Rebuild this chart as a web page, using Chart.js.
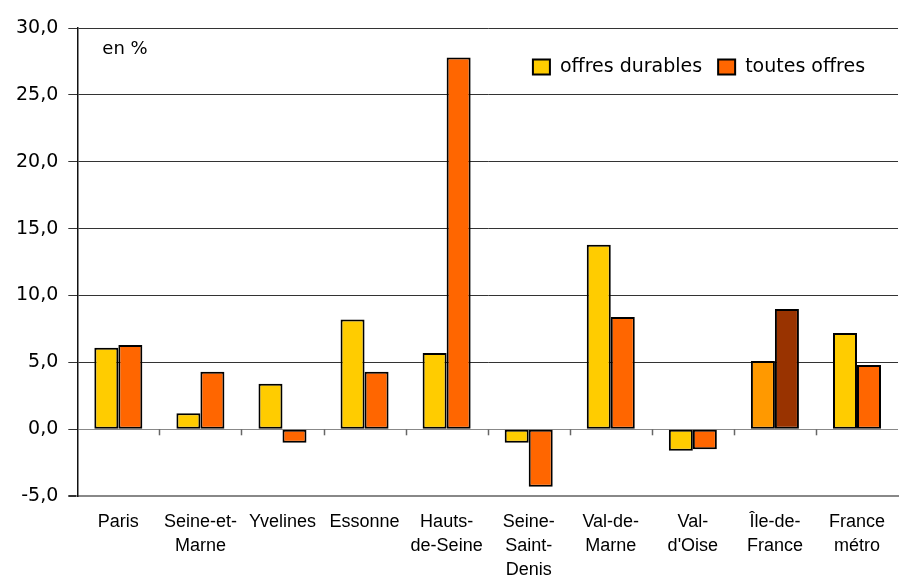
<!DOCTYPE html>
<html lang="fr">
<head>
<meta charset="UTF-8">
<title>Offres durables / toutes offres</title>
<script src="https://cdn.jsdelivr.net/npm/chart.js@4"></script>
<style>
  html, body { margin: 0; padding: 0; background: #fff; }
  #wrap { width: 899px; height: 578px; }
</style>
</head>
<body>
<div id="wrap"><canvas id="chart"></canvas></div>
<script>
const categories = [["Paris"], ["Seine-et-", "Marne"], ["Yvelines"], ["Essonne"], ["Hauts-", "de-Seine"],
  ["Seine-", "Saint-", "Denis"], ["Val-de-", "Marne"], ["Val-", "d'Oise"], ["Île-de-", "France"], ["France", "métro"]];
const offresDurables = [6.1, 1.2, 3.4, 8.2, 5.7, -1.0, 13.8, -1.6, 5.1, 7.2];
const toutesOffres = [6.3, 4.3, -1.0, 4.3, 27.8, -4.3, 8.4, -1.5, 9.0, 4.8];
const yTicks = [-5, 0, 5, 10, 15, 20, 25, 30];
const highlightIndex = 8; // Île-de-France drawn in other shades

const tickFont = { family: "DejaVu Sans", size: 19 };

// small ticks on the zero line between categories, plus "en %" and the legend
const extras = {
  id: "extras",
  afterDatasetsDraw(chart) {
    const { ctx, chartArea, scales: { x, y } } = chart;
    const y0 = y.getPixelForValue(0);
    const step = x.getPixelForValue(1) - x.getPixelForValue(0);
    ctx.save();
    ctx.strokeStyle = "#666";
    ctx.lineWidth = 1.5;
    for (let i = 0; i < categories.length - 1; i++) {
      const px = Math.round(x.getPixelForValue(i) + step / 2) + 0.5;
      ctx.beginPath();
      ctx.moveTo(px, y0);
      ctx.lineTo(px, y0 + 6);
      ctx.stroke();
    }
    ctx.font = "18px 'DejaVu Sans'";
    ctx.fillStyle = "#000";
    ctx.textBaseline = "middle";
    ctx.fillText("en %", chartArea.left + 25, chartArea.top + 21);

    // legend
    ctx.font = "19px 'DejaVu Sans'";
    const items = chart.data.datasets.map(d => ({ label: d.label, color: d.legendColor }));
    let lx = chartArea.right - 33;
    const ly = chartArea.top + 39;
    const widths = items.map(it => ctx.measureText(it.label).width);
    let total = 0;
    items.forEach((it, i) => { total += 17 + 10 + widths[i] + (i < items.length - 1 ? 16 : 0); });
    lx -= total;
    items.forEach((it, i) => {
      ctx.fillStyle = it.color;
      ctx.fillRect(lx, ly - 7.5, 17, 15);
      ctx.strokeStyle = "#000";
      ctx.lineWidth = 2;
      ctx.strokeRect(lx, ly - 7.5, 17, 15);
      ctx.fillStyle = "#000";
      ctx.fillText(it.label, lx + 27, ly);
      lx += 27 + widths[i] + 16;
    });
    ctx.restore();
  }
};

new Chart(document.getElementById("chart"), {
  type: "bar",
  data: {
    labels: categories,
    datasets: [
      {
        label: "offres durables",
        data: offresDurables,
        legendColor: "#FFCC00",
        backgroundColor: c => c.dataIndex === highlightIndex ? "#FF9900" : "#FFCC00",
        borderColor: "#000",
        borderWidth: 2,
        borderSkipped: false
      },
      {
        label: "toutes offres",
        data: toutesOffres,
        legendColor: "#FF6600",
        backgroundColor: c => c.dataIndex === highlightIndex ? "#993300" : "#FF6600",
        borderColor: "#000",
        borderWidth: 2,
        borderSkipped: false
      }
    ]
  },
  options: {
    responsive: true,
    maintainAspectRatio: false,
    animation: false,
    layout: { padding: { left: 6, top: 28, right: 0, bottom: -18 } },
    plugins: { legend: { display: false }, tooltip: { enabled: false } },
    datasets: { bar: { categoryPercentage: 0.585, barPercentage: 1 } },
    scales: {
      x: {
        grid: { drawOnChartArea: false, drawTicks: false },
        border: { display: true, color: "#888", width: 2 },
        ticks: {
          color: "#000",
          font: { family: "Liberation Sans", size: 18, lineHeight: 1.33 },
          padding: 14,
          maxRotation: 0,
          autoSkip: false
        }
      },
      y: {
        min: -5,
        max: 30,
        afterBuildTicks: s => { s.ticks = yTicks.map(v => ({ value: v })); },
        grid: {
          color: c => (c.tick && (c.tick.value === 0 || c.tick.value === -5)) ? "#888" : "#333",
          lineWidth: c => (c.tick && c.tick.value === -5) ? 2 : 1,
          tickLength: 9,
          tickColor: "#333"
        },
        border: { display: true, color: "#111", width: 1.5 },
        ticks: {
          color: "#000",
          font: tickFont,
          padding: 10,
          callback: v => v.toFixed(1).replace(".", ",")
        }
      }
    }
  },
  plugins: [extras]
});
</script>
</body>
</html>
